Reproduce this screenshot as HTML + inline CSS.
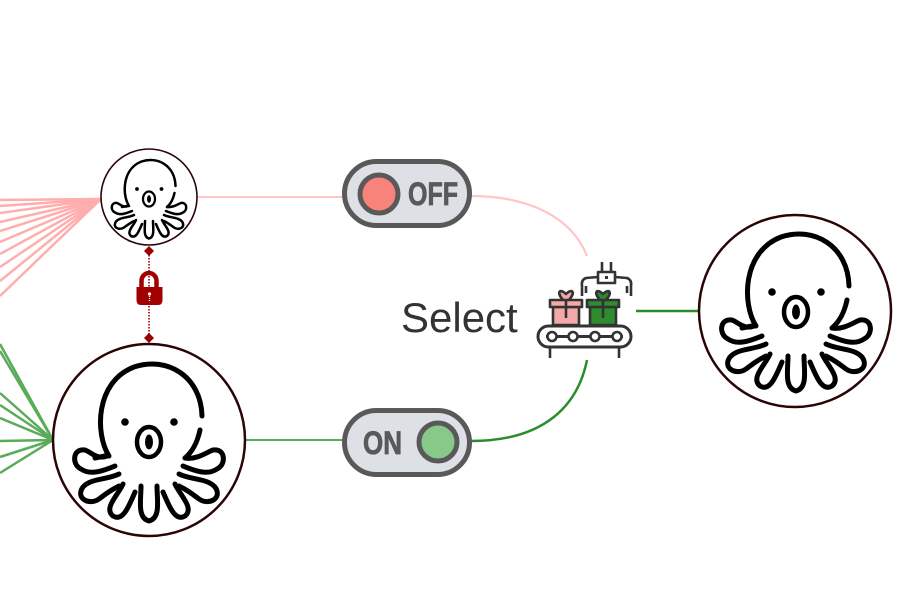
<!DOCTYPE html>
<html><head><meta charset="utf-8"><style>
html,body{margin:0;padding:0;background:#fff;}
svg{display:block;}
</style></head><body>
<svg width="900" height="600" viewBox="0 0 900 600" xmlns="http://www.w3.org/2000/svg">
<defs>
<g id="octo" fill="none" stroke="#000" stroke-width="5" stroke-linecap="round" stroke-linejoin="round">
  <path d="M -40,12 C -54,-10 -54,-62 -15,-77 C 18,-88 52,-68 53,-28"/>
  <path d="M 51,-14 C 48,0 43,8 36,14"/>
  <circle cx="-24" cy="-22" r="3.8" fill="#000" stroke="none"/>
  <circle cx="25" cy="-22" r="3.8" fill="#000" stroke="none"/>
  <ellipse cx="0" cy="-2" rx="12" ry="15" stroke-width="4.5"/>
  <ellipse cx="0" cy="-2" rx="4" ry="7.5" fill="#000" stroke="none"/>
  <!-- left tentacles -->
  <path d="M -42,12 C -52,16 -58,8 -64,6 C -76,4 -78,20 -68,25 C -58,32 -44,26 -34,22"/>
  <path d="M -54,14 L -44,12"/>
  <path d="M -30,30 C -42,36 -58,34 -66,43 C -74,54 -60,62 -50,55 C -42,49 -38,46 -30,42"/>
  <path d="M -26,40 C -30,50 -46,64 -36,72 C -26,78 -20,62 -14,48"/>
  <path d="M -8,42 C -8,56 -12,74 0,77 C 12,74 8,56 8,42"/>
  <!-- right tentacles -->
  <path d="M 36,14 C 48,16 58,8 64,6 C 76,4 78,20 68,25 C 58,32 44,26 34,22"/>
  <path d="M 30,30 C 42,36 58,34 66,43 C 74,54 60,62 50,55 C 42,49 38,46 30,42"/>
  <path d="M 26,40 C 30,50 46,64 36,72 C 26,78 20,62 14,48"/>
</g>
</defs>

<!-- pink fan -->
<g stroke="#ffadad" stroke-width="2.5" fill="none">
  <line x1="0" y1="200" x2="101" y2="199"/>
  <line x1="0" y1="206" x2="101" y2="199"/>
  <line x1="0" y1="213" x2="101" y2="199"/>
  <line x1="0" y1="222" x2="101" y2="199"/>
  <line x1="0" y1="231" x2="101" y2="199"/>
  <line x1="0" y1="242" x2="101" y2="199"/>
  <line x1="0" y1="254" x2="101" y2="199"/>
  <line x1="0" y1="267" x2="101" y2="199"/>
  <line x1="0" y1="281" x2="101" y2="199"/>
  <line x1="0" y1="296" x2="101" y2="199"/>
</g>
<!-- green fan -->
<g stroke="#5aab5a" stroke-width="2.5" fill="none">
  <line x1="0" y1="344" x2="53" y2="440"/>
  <line x1="0" y1="351" x2="53" y2="440"/>
  <line x1="0" y1="393" x2="53" y2="440"/>
  <line x1="0" y1="405" x2="53" y2="440"/>
  <line x1="0" y1="418" x2="53" y2="440"/>
  <line x1="0" y1="441" x2="53" y2="440"/>
  <line x1="0" y1="457" x2="53" y2="440"/>
  <line x1="0" y1="473" x2="53" y2="440"/>
</g>

<!-- connectors -->
<path d="M197,197 L344,197" stroke="#ffc6c6" stroke-width="2" fill="none"/>
<path d="M471,196 C 530,196 572,218 587,256" stroke="#ffc6c6" stroke-width="2.2" fill="none"/>
<path d="M245,440 L344,440" stroke="#5aab5a" stroke-width="2" fill="none"/>
<path d="M471,441 C 545,441 578,405 587,360" stroke="#2b8c2b" stroke-width="2.5" fill="none"/>
<path d="M636,311 L698,311" stroke="#2b8c2b" stroke-width="2.5" fill="none"/>

<!-- lock connector -->
<line x1="149" y1="252" x2="149" y2="338" stroke="#9a0000" stroke-width="1.6" stroke-dasharray="1.5 1.5"/>
<path d="M149,246 L154,251 L149,256 L144,251 Z" fill="#9a0000"/>
<path d="M149,333 L154,338 L149,343 L144,338 Z" fill="#9a0000"/>
<path d="M141.5,289 L141.5,281 A7.5,8 0 0 1 156.5,281 L156.5,289" fill="none" stroke="#a00000" stroke-width="4.5"/>
<path d="M136.5,287 L162.5,287 L162.5,300 Q162.5,305 158,305 L141,305 Q136.5,305 136.5,300 Z" fill="#a00000"/>
<circle cx="149.5" cy="294" r="1.6" fill="#fff"/>
<line x1="149.5" y1="296" x2="149.5" y2="301" stroke="#fff" stroke-width="1.3" stroke-dasharray="1 1"/>

<!-- nodes -->
<circle cx="149" cy="197" r="48" fill="#fff" stroke="#2a0505" stroke-width="1.6"/>
<use href="#octo" transform="translate(149,200) scale(0.5)"/>
<circle cx="149" cy="440" r="96" fill="#fff" stroke="#2a0505" stroke-width="2.5"/>
<use href="#octo" transform="translate(149,444)"/>
<circle cx="795" cy="311" r="96" fill="#fff" stroke="#2a0505" stroke-width="2.5"/>
<use href="#octo" transform="translate(796,314)"/>

<!-- OFF toggle -->
<rect x="344.5" y="161.5" width="125" height="64" rx="32" fill="#dde1e6" stroke="#595959" stroke-width="5"/>
<circle cx="379" cy="194" r="19" fill="#f8837b" stroke="#595959" stroke-width="5"/>
<text x="408" y="205" font-family="Liberation Sans, sans-serif" font-weight="bold" font-size="32" fill="#595959" stroke="#595959" stroke-width="0.8" textLength="50" lengthAdjust="spacingAndGlyphs">OFF</text>

<!-- ON toggle -->
<rect x="344.5" y="410.5" width="125" height="64" rx="32" fill="#dde1e6" stroke="#595959" stroke-width="5"/>
<circle cx="438" cy="442" r="19" fill="#88c98a" stroke="#595959" stroke-width="5"/>
<text x="363" y="454" font-family="Liberation Sans, sans-serif" font-weight="bold" font-size="32" fill="#595959" stroke="#595959" stroke-width="0.8" textLength="39" lengthAdjust="spacingAndGlyphs">ON</text>

<!-- Select label -->
<text x="401" y="332" font-family="Liberation Sans, sans-serif" font-size="42" fill="#333">Select</text>

<!-- conveyor icon -->
<g stroke="#333" stroke-width="2.6" fill="none" stroke-linejoin="round">
  <line x1="602" y1="262" x2="602" y2="272"/>
  <line x1="611" y1="262" x2="611" y2="272"/>
  <rect x="598" y="272" width="17" height="11" fill="#fff"/>
  <rect x="605" y="276" width="3" height="3" fill="#333" stroke="none"/>
  <path d="M598,277 L586,278 Q581,280 582,286 L582,296 M615,277 L627,278 Q632,280 631,286 L631,296"/>
  <path d="M586,286 L586,293 M627,286 L627,293"/>
  <!-- pink gift -->
  <path d="M563,300 C556,292 560,288 566,294 C572,288 576,292 569,300" fill="#f4a9a9"/>
  <rect x="553" y="307" width="26" height="18" fill="#f4a9a9"/>
  <rect x="550" y="300" width="32" height="7" fill="#f4a9a9"/>
  <line x1="566" y1="300" x2="566" y2="318"/>
  <!-- green gift -->
  <path d="M600,300 C593,292 597,288 603,294 C609,288 613,292 606,300" fill="#2e8b2e"/>
  <rect x="590" y="307" width="26" height="18" fill="#2e8b2e"/>
  <rect x="587" y="300" width="32" height="7" fill="#2e8b2e"/>
  <line x1="603" y1="300" x2="603" y2="318"/>
  <!-- belt -->
  <rect x="538" y="326" width="93" height="21" rx="10.5" fill="#fff" stroke-width="3"/>
  <line x1="546" y1="336.5" x2="623" y2="336.5" stroke-width="3" stroke="#333"/>
  <circle cx="552" cy="336.5" r="4.5" fill="#fff" stroke-width="2.6"/>
  <circle cx="573" cy="336.5" r="4.5" fill="#fff" stroke-width="2.6"/>
  <circle cx="595" cy="336.5" r="4.5" fill="#fff" stroke-width="2.6"/>
  <circle cx="617" cy="336.5" r="4.5" fill="#fff" stroke-width="2.6"/>
  <line x1="550" y1="347" x2="550" y2="358"/>
  <line x1="619" y1="347" x2="619" y2="358"/>
</g>
</svg>
</body></html>
